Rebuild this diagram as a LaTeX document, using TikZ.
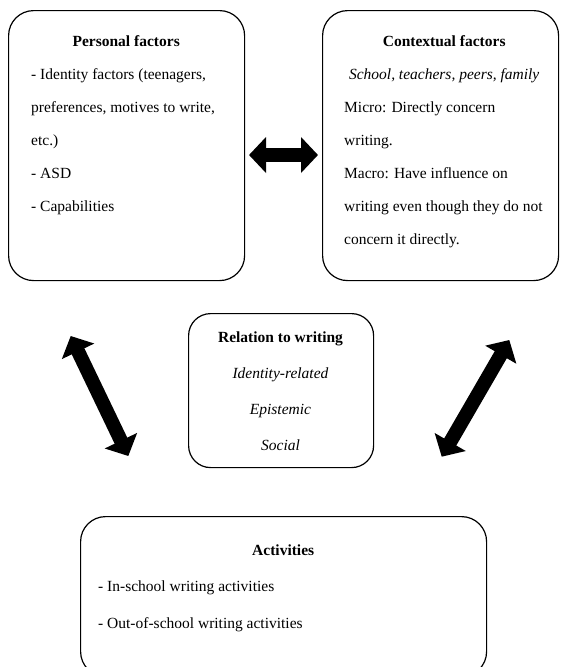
\documentclass[tikz,border=0pt]{standalone}
\usepackage{fontspec}
\setmainfont{Liberation Serif}
\usetikzlibrary{arrows.meta,calc}
\setlength{\parindent}{0pt}
\newcommand{\midline}[1]{\hfill#1\hfill\null}
\tikzset{
  factorbox/.style={draw, line width=1.2pt, rounded corners=25pt, anchor=north west, inner sep=0pt},
  boxtext/.style={anchor=north west, inner sep=0pt, align=justify, font=\fontsize{15.5}{33}\selectfont},
  bigarrow/.style={line width=14pt, {Triangle[length=17pt,width=35pt]}-{Triangle[length=17pt,width=35pt]}}
}
\begin{document}
\begin{tikzpicture}[x=1pt,y=-1pt]
  \useasboundingbox (0,0) rectangle (560,667);

  % Personal factors
  \node[factorbox, minimum width=236pt, minimum height=270pt] (personal) at (8,10) {};
  \node[boxtext, text width=190pt] (personaltext) at (31,35.5) {%
    \midline{\textbf{Personal factors}}\par
    - Identity factors (teenagers,\par
    preferences, motives to write,\par
    etc.)\par
    - ASD\par
    - Capabilities\par};

  % Contextual factors
  \node[factorbox, minimum width=236pt, minimum height=270pt] (contextual) at (322,10) {};
  \node[boxtext, text width=200pt] (contextualtext) at (344,35.5) {%
    \midline{\textbf{Contextual factors}}\par
    \midline{\textit{School, teachers, peers, family}}\par
    Micro: Directly concern\par
    writing.\par
    Macro: Have influence on\par
    \mbox{writing even though they do not}\par
    concern it directly.\par};

  % Relation to writing
  \node[factorbox, minimum width=185pt, minimum height=154pt, rounded corners=22pt] (relation) at (188,313) {};
  \node[boxtext, anchor=north, text width=175pt, font=\fontsize{15.5}{36}\selectfont] (relationtext) at (280.5,331.5) {%
    \midline{\textbf{Relation to writing}}\par
    \midline{\textit{Identity-related}}\par
    \midline{\textit{Epistemic}}\par
    \midline{\textit{Social}}\par};

  % Activities
  \node[factorbox, minimum width=406pt, minimum height=160pt] (activities) at (80,516) {};
  \node[boxtext, text width=370pt, font=\fontsize{15.5}{36.5}\selectfont] (activitiestext) at (98,544.5) {%
    \midline{\textbf{Activities}}\par
    - In-school writing activities\par
    - Out-of-school writing activities\par};

  % double arrows
  \coordinate (pcleft) at (249,155);
  \coordinate (pcright) at (318,155);
  \coordinate (prtop) at (70.7,336);
  \coordinate (prbottom) at (128.3,456);
  \coordinate (crbottom) at (441.7,456.7);
  \coordinate (crtop) at (509.3,340);
  \draw[bigarrow] (pcleft) -- (pcright);
  \draw[bigarrow] (prtop) -- (prbottom);
  \draw[bigarrow] (crbottom) -- (crtop);
\end{tikzpicture}
\end{document}
